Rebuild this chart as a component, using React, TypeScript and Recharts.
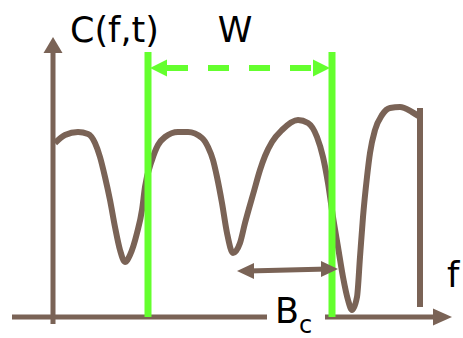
import React from 'react';
import { ComposedChart, Line, Scatter, XAxis, YAxis } from 'recharts';

const BROWN = '#7a6356';
const GREEN = '#64ff2e';
const FONT = 'DejaVu Sans, sans-serif';

// units: pixels measured from the axis origin, C pointing upward
const curve = [
  { f: 2, C: 174 }, { f: 12, C: 182 }, { f: 25, C: 185 }, { f: 35, C: 183 },
  { f: 42, C: 174 }, { f: 47, C: 160 }, { f: 52, C: 140 }, { f: 57, C: 117 },
  { f: 62, C: 90 }, { f: 67, C: 67 }, { f: 72, C: 55 }, { f: 77, C: 62 },
  { f: 84, C: 84 }, { f: 89, C: 107 }, { f: 92, C: 130 }, { f: 99, C: 157 },
  { f: 105, C: 172 }, { f: 112, C: 180 }, { f: 125, C: 185 }, { f: 135, C: 185 },
  { f: 149, C: 179 }, { f: 155, C: 170 }, { f: 160, C: 157 }, { f: 164, C: 140 },
  { f: 169, C: 114 }, { f: 174, C: 84 }, { f: 180, C: 64 }, { f: 187, C: 74 },
  { f: 192, C: 94 }, { f: 201, C: 126 }, { f: 207, C: 147 }, { f: 212, C: 161 },
  { f: 219, C: 175 }, { f: 229, C: 187 }, { f: 245, C: 197 }, { f: 255, C: 194 },
  { f: 264, C: 180 }, { f: 270, C: 160 }, { f: 275, C: 134 }, { f: 280, C: 100 },
  { f: 285, C: 70 }, { f: 290, C: 40 }, { f: 295, C: 17 }, { f: 299, C: 7 },
  { f: 304, C: 20 }, { f: 307, C: 60 }, { f: 310, C: 100 }, { f: 314, C: 140 },
  { f: 317, C: 164 }, { f: 322, C: 187 }, { f: 329, C: 202 }, { f: 337, C: 209 },
  { f: 347, C: 210 }, { f: 359, C: 205 }, { f: 367, C: 200 },
];
const rightEdge = [{ f: 367, C: 209 }, { f: 367, C: 10 }];
const yAxisLine = [{ f: 0, C: -7 }, { f: 0, C: 266 }];
const xAxisLeft = [{ f: -41, C: 0 }, { f: 214, C: 0 }];
const xAxisRight = [{ f: 272, C: 0 }, { f: 384, C: 0 }];
const windowLeft = [{ f: 95, C: 0 }, { f: 95, C: 265 }];
const windowRight = [{ f: 279, C: 0 }, { f: 279, C: 265 }];
const wArrow = [{ f: 114, C: 249 }, { f: 260, C: 249 }];
const bcArrow = [{ f: 195, C: 46 }, { f: 275, C: 48 }];
const arrowHeads = [
  { f: 0, C: 280, dir: -90, color: 'brown', len: 16, half: 9.5 },
  { f: 399, C: 0, dir: 0, color: 'brown', len: 19, half: 8.5 },
  { f: 97, C: 249, dir: 180, color: 'green', len: 17, half: 8.5 },
  { f: 277, C: 249, dir: 0, color: 'green', len: 17, half: 8.5 },
  { f: 184, C: 46, dir: 180, color: 'brown', len: 17, half: 8 },
  { f: 285, C: 48, dir: 0, color: 'brown', len: 17, half: 8 },
];
const labels = [
  { f: 17, C: 275, text: 'C(f,t)', sub: '', anchor: 'start' },
  { f: 182, C: 275, text: 'W', sub: '', anchor: 'middle' },
  { f: 222, C: -6, text: 'B', sub: 'c', anchor: 'start' },
  { f: 394, C: 30, text: 'f', sub: '', anchor: 'start' },
];

const ArrowHead = (props: any) => {
  const { cx, cy, payload } = props;
  const L = payload.len;
  const H = payload.half;
  return (
    <polygon
      points={`0,0 ${-L},${-H} ${-L},${H}`}
      transform={`translate(${cx},${cy}) rotate(${payload.dir})`}
      fill={payload.color === 'green' ? GREEN : BROWN}
    />
  );
};

const Label = (props: any) => {
  const { cx, cy, payload } = props;
  return (
    <text x={cx} y={cy} fontFamily={FONT} fontSize={35} fill="#000" textAnchor={payload.anchor}>
      <tspan>{payload.text}</tspan>
      {payload.sub ? <tspan fontSize={24} dy={10}>{payload.sub}</tspan> : null}
    </text>
  );
};

export default function App() {
  const seg = (data: any[], color: string, width: number, extra: any = {}) => (
    <Line
      data={data}
      dataKey="C"
      type="linear"
      stroke={color}
      strokeWidth={width}
      dot={false}
      activeDot={false}
      isAnimationActive={false}
      {...extra}
    />
  );
  return (
    <div style={{ position: 'absolute', left: 0, top: 0, background: '#fff' }}>
      <ComposedChart width={463} height={338} margin={{ top: 0, right: 0, bottom: 0, left: 0 }}>
        <XAxis dataKey="f" type="number" domain={[-53, 410]} allowDataOverflow hide />
        <YAxis dataKey="C" type="number" domain={[-21, 317]} allowDataOverflow hide />
        {seg(yAxisLine, BROWN, 5)}
        {seg(xAxisLeft, BROWN, 5)}
        {seg(xAxisRight, BROWN, 5)}
        <Line
          data={curve}
          dataKey="C"
          type="monotone"
          stroke={BROWN}
          strokeWidth={6}
          dot={false}
          activeDot={false}
          isAnimationActive={false}
        />
        {seg(rightEdge, BROWN, 6)}
        {seg(windowLeft, GREEN, 7)}
        {seg(windowRight, GREEN, 7)}
        {seg(wArrow, GREEN, 6, { strokeDasharray: '21 20' })}
        {seg(bcArrow, BROWN, 5)}
        <Scatter data={arrowHeads} shape={<ArrowHead />} isAnimationActive={false} />
        <Scatter data={labels} shape={<Label />} isAnimationActive={false} />
      </ComposedChart>
    </div>
  );
}
